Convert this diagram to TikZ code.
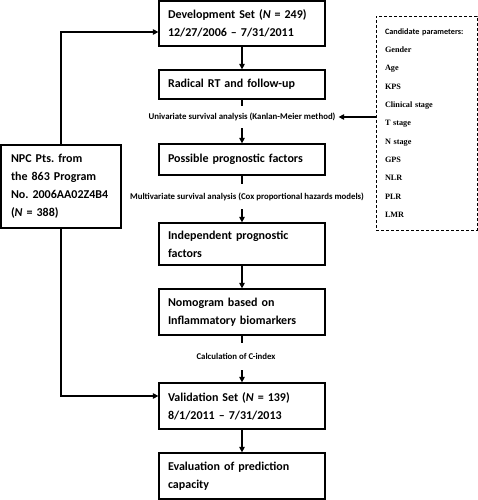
\documentclass[tikz,border=0pt]{standalone}
\usepackage{fontspec}
\setmainfont{Liberation Serif}
\newfontfamily\carlito{Carlito}
\usetikzlibrary{arrows.meta}
\frenchspacing
\begin{document}
\begin{tikzpicture}[x=1pt,y=-1pt,
  box/.style={draw, line width=1.3pt, text width=148pt, inner xsep=9pt, inner ysep=0pt, align=left,
    font={\carlito\fontsize{12}{18}\selectfont\bfseries\frenchspacing}},
  lbl/.style={inner xsep=3pt, inner ysep=0pt, font={\carlito\fontsize{8.8}{10}\selectfont\bfseries}},
  conn/.style={line width=1.3pt},
  arr/.style={line width=1.3pt, -{Triangle[length=5.5pt,width=5.5pt]}},
  candbox/.style={draw, dashed, line width=0.8pt, dash pattern=on 3pt off 2pt, text width=83pt, inner xsep=9pt, minimum height=214pt, align=left,
    font={\fontsize{8.2}{18.3}\selectfont\bfseries}}
]
\useasboundingbox (0,0) rectangle (478,500);

\node[box, minimum height=45pt] (dev) at (242,23.5) {Development Set (\textit{N} = 249)\\12/27/2006 – 7/31/2011};
\node[box, minimum height=29pt] (rt) at (242,84.5) {Radical RT and follow-up};
\node[lbl, minimum height=22pt] (uni) at (242,117) {Univariate survival analysis (Kanlan-Meier method)};
\node[box, minimum height=31pt] (poss) at (242,159.5) {Possible prognostic factors};
\node[lbl, minimum height=25pt] (multi) at (247,196.5) {Multivariate survival analysis (Cox proportional hazards models)};
\node[box, minimum height=42pt] (indep) at (242,244) {Independent prognostic\\factors};
\node[box, minimum height=46pt] (nomo) at (242,312) {Nomogram based on\\Inflammatory biomarkers};
\node[lbl, minimum height=27pt] (cidx) at (236,356.5) {Calculation of C-index};
\node[box, minimum height=46pt] (val) at (242,406) {Validation Set (\textit{N} = 139)\\8/1/2011 – 7/31/2013};
\node[box, minimum height=46pt] (eval) at (242,476) {Evaluation of prediction\\capacity};

\node[box, text width=100pt, inner xsep=10pt, minimum height=83pt] (npc) at (61,186.5) {NPC Pts. from\\the 863 Program\\No. 2006AA02Z4B4\\(\textit{N} = 388)};

\node[candbox] (cand) at (426.5,123) {\mbox{\carlito Candidate parameters:}\\Gender\\Age\\KPS\\Clinical stage\\T stage\\N stage\\GPS\\NLR\\PLR\\LMR};

\draw[arr] (dev) -- (rt);
\draw[conn] (rt.south) -- (rt.south |- uni.north);
\draw[arr] (rt.south |- uni.south) -- (poss.north);
\draw[conn] (poss.south) -- (poss.south |- multi.north);
\draw[arr] (poss.south |- multi.south) -- (indep.north);
\draw[arr] (indep) -- (nomo);
\draw[conn] (nomo.south) -- (nomo.south |- cidx.north);
\draw[arr] (nomo.south |- cidx.south) -- (val.north);
\draw[arr] (val) -- (eval);
\draw[arr] (cand.west |- uni.east) -- (uni.east);
\draw[arr] (npc.north) |- ([yshift=-8.5pt]dev.west);
\draw[arr] (npc.south) |- ([yshift=10pt]val.west);
\end{tikzpicture}
\end{document}
